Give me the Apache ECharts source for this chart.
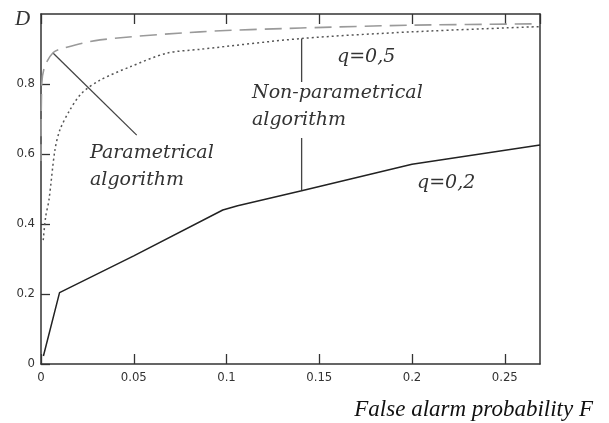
<!DOCTYPE html>
<html>
<head>
<meta charset="utf-8">
<script src="https://cdn.jsdelivr.net/npm/echarts@6/dist/echarts.min.js"></script>
<style>html,body{margin:0;padding:0;background:#fff;}#c{width:609px;height:423px;}</style>
</head>
<body>
<div id="c"></div>
<script>
// Detection probability D vs false alarm probability F
const xTicks = [0, 0.05, 0.1, 0.15, 0.2, 0.25];
const yTicks = [0, 0.2, 0.4, 0.6, 0.8];
// Non-parametrical algorithm, q = 0.2 (solid)
const nonParamQ02 = [[0.0013,0.023],[0.01,0.204],[0.05,0.309],[0.098,0.44],[0.106,0.452],[0.1405,0.495],[0.2,0.571],[0.269,0.626]];
// Non-parametrical algorithm, q = 0.5 (dotted)
const nonParamQ05 = [[0.0012,0.354],[0.0025,0.42],[0.0043,0.469],[0.0075,0.611],[0.0102,0.669],[0.0156,0.726],[0.022,0.774],[0.0318,0.811],[0.048,0.849],[0.0677,0.888],[0.0857,0.899],[0.1405,0.93],[0.2,0.949],[0.269,0.964]];
// Parametrical algorithm (grey dashed)
const paramAlg = [[0,0.58],[0.0004,0.80],[0.002,0.85],[0.0066,0.89],[0.0119,0.902],[0.0318,0.926],[0.0857,0.949],[0.14,0.96],[0.2,0.968],[0.269,0.972]];
// Leader lines for annotations
const leaderParam = [[0.0066,0.888],[0.0516,0.654]];
const leaderNonParamTop = [[0.1405,0.930],[0.1405,0.806]];
const leaderNonParamBottom = [[0.1405,0.646],[0.1405,0.495]];

const chart = echarts.init(document.getElementById('c'), null, {renderer:'canvas'});
const axisLine = {show:true, onZero:false, lineStyle:{color:'#333', width:1.5}};
const labelFont = {fontFamily:'DejaVu Sans Condensed, DejaVu Sans', fontSize:13, color:'#333'};
const serifIt = 'Liberation Serif';
const annoFont = 'DejaVu Serif';
function leader(data){
  return {type:'line', data:data, symbol:'none', silent:true, lineStyle:{color:'#444', width:1.3}, z:3};
}
chart.setOption({
  animation:false,
  grid:{left:41, right:69, top:14, bottom:59},
  xAxis:[
    {type:'value', position:'bottom', min:0, max:0.269, interval:0.05,
     axisLine:axisLine, axisTick:{show:true, inside:true, length:10, lineStyle:{color:'#333', width:1.3}},
     axisLabel:Object.assign({margin:7, showMaxLabel:false, formatter:function(v){return String(+v.toFixed(2));}}, labelFont),
     splitLine:{show:false}},
    {type:'value', position:'top', min:0, max:0.269, interval:0.05,
     axisLine:axisLine, axisTick:{show:true, inside:true, length:10, lineStyle:{color:'#333', width:1.3}},
     axisLabel:{show:false}, splitLine:{show:false}}
  ],
  yAxis:[
    {type:'value', position:'left', min:0, max:1, interval:0.2,
     axisLine:axisLine, axisTick:{show:true, inside:true, length:9, lineStyle:{color:'#333', width:1.3}},
     axisLabel:Object.assign({margin:6, showMaxLabel:false, formatter:function(v){return String(+v.toFixed(1));}}, labelFont),
     splitLine:{show:false}},
    {type:'value', position:'right', min:0, max:1, interval:0.2,
     axisLine:axisLine, axisTick:{show:false}, axisLabel:{show:false}, splitLine:{show:false}}
  ],
  series:[
    {name:'q=0,2', type:'line', data:nonParamQ02, symbol:'none', lineStyle:{color:'#222', width:1.5}, z:4},
    {name:'q=0,5', type:'line', data:nonParamQ05, symbol:'none', smooth:0.3, lineStyle:{color:'#555', width:1.5, type:[2,3]}, z:4},
    {name:'Parametrical', type:'line', data:paramAlg, symbol:'none', smooth:0.3, lineStyle:{color:'#9a9a9a', width:1.6, type:[17,8]}, z:4},
    leader(leaderParam), leader(leaderNonParamTop), leader(leaderNonParamBottom)
  ],
  graphic:[
    {type:'text', left:15, top:9, style:{text:'D', font:'italic 21px '+serifIt, fill:'#333'}},
    {type:'text', x:90, y:153, style:{text:'Parametrical', font:'italic 19px '+annoFont, fill:'#333', textVerticalAlign:'middle'}},
    {type:'text', x:90, y:180, style:{text:'algorithm', font:'italic 19px '+annoFont, fill:'#333', textVerticalAlign:'middle'}},
    {type:'text', x:252, y:93, style:{text:'Non-parametrical', font:'italic 19px '+annoFont, fill:'#333', textVerticalAlign:'middle'}},
    {type:'text', x:252, y:120, style:{text:'algorithm', font:'italic 19px '+annoFont, fill:'#333', textVerticalAlign:'middle'}},
    {type:'text', x:337, y:57, style:{text:'q=0,5', font:'italic 19px '+annoFont, fill:'#333', textVerticalAlign:'middle'}},
    {type:'text', x:417, y:183, style:{text:'q=0,2', font:'italic 19px '+annoFont, fill:'#333', textVerticalAlign:'middle'}},
    {type:'text', x:593, y:410, style:{text:'False alarm probability F', font:'italic 23px '+serifIt, fill:'#111', textAlign:'right', textVerticalAlign:'middle'}}
  ]
});
</script>
</body>
</html>
